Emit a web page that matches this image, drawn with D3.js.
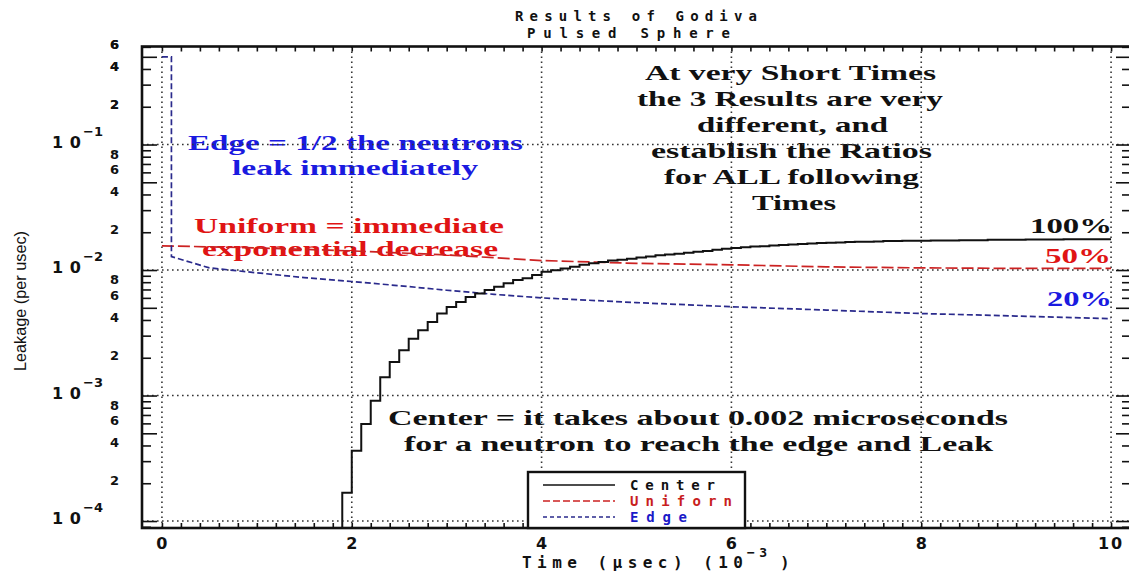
<!DOCTYPE html>
<html><head><meta charset="utf-8">
<script src="https://cdn.jsdelivr.net/npm/d3@7"></script>
<style>body{margin:0;background:#fff}</style>
</head><body>
<svg id="chart" width="1129" height="571"></svg>
<script>
// ---- data (time in 1e-3 usec, leakage per usec) ----
const seriesNames = ["Center", "Uniforn", "Edge"];

// Center: histogram bins 0.1 wide, first bin starts at 1.9
const centerBinStart = 1.9;
const centerBinWidth = 0.1;
const centerValues = [
  0.000168, 0.000363, 0.000594, 0.00091, 0.00140, 0.00185, 0.00229, 0.00284, 0.00331, 0.00386,
  0.00451, 0.00508, 0.00557, 0.00611, 0.00651, 0.00692, 0.00735, 0.00783, 0.00832, 0.00859,
  0.00912, 0.00969, 0.00998, 0.0103, 0.0106, 0.0110, 0.0113, 0.0116, 0.0119, 0.0121,
  0.0123, 0.0126, 0.0128, 0.0131, 0.0133, 0.0135, 0.0137, 0.0140, 0.0142, 0.0145,
  0.0148, 0.0150, 0.0152, 0.0154, 0.0155, 0.0157, 0.0158, 0.0160, 0.0161, 0.0163,
  0.0164, 0.0165, 0.0166, 0.0167, 0.0168, 0.0168, 0.0169, 0.0170, 0.0170, 0.0171,
  0.0171, 0.0171, 0.0172, 0.0172, 0.0172, 0.0173, 0.0173, 0.0173, 0.0174, 0.0174,
  0.0174, 0.0174, 0.0175, 0.0175, 0.0175, 0.0175, 0.0176, 0.0176, 0.0176, 0.0176,
  0.0176
];

const uniformTimes  = [0, 1, 2, 3, 4, 5, 6, 7, 8, 9, 10];
const uniformValues = [0.0156, 0.0150, 0.0142, 0.0132, 0.0119, 0.0113, 0.0110, 0.0106, 0.0104, 0.0103, 0.0103];

const edgeTimes  = [0, 0.1, 0.1, 0.5, 1, 1.5, 2, 2.5, 3, 3.5, 4, 5, 6, 7, 8, 9, 10];
const edgeValues = [0.5, 0.5, 0.0128, 0.0104, 0.0095, 0.0087, 0.0081, 0.0075, 0.0069, 0.0064, 0.0060, 0.0055, 0.0051, 0.0048, 0.0045, 0.0043, 0.0041];

const xTickLabels = [0, 2, 4, 6, 8, 10];
const yDecadeExps = [-1, -2, -3, -4];
const yMantissaLabels = [2, 4, 6, 8];

// ---- scales ----
const W = 1129, H = 571;
const L = 142, R = 1131, T = 46.5, B = 528;
const x = d3.scaleLinear().domain([-0.21, 10.21]).range([L, R]);
const y = d3.scaleLog().domain([8.8e-5, 0.604]).range([B, T]);

const svg = d3.select("#chart");
svg.append("rect").attr("width", W).attr("height", H).attr("fill", "#fff");

const serif = "'Liberation Serif','Times New Roman',serif";
const mono = "'DejaVu Sans Mono','Liberation Mono',monospace";
const sans = "'DejaVu Sans','Liberation Sans',sans-serif";

// ---- annotation texts (drawn beneath grid and curves) ----
const notes = svg.append("g").attr("font-family", serif).attr("font-weight", "bold").attr("font-size", 21);
function note(txt, x0, base, len, col) {
  notes.append("text").attr("x", x0).attr("y", base).attr("fill", col)
    .attr("textLength", len).attr("lengthAdjust", "spacingAndGlyphs").text(txt);
}
note("At very Short Times", 645, 80, 291, "#111");
note("the 3 Results are very", 637, 106, 306, "#111");
note("different, and", 697, 132, 191, "#111");
note("establish the Ratios", 651, 158, 281, "#111");
note("for ALL following", 664, 184, 255, "#111");
note("Times", 752, 210, 84, "#111");

note("Edge = 1/2 the neutrons", 188, 150, 335, "#1a1ae0");
note("leak immediately", 232, 175, 246, "#1a1ae0");

note("Uniform = immediate", 194, 233, 310, "#e01414");
note("exponential decrease", 202, 256, 296, "#e01414");

note("Center = it takes about 0.002 microseconds", 388, 425, 620, "#111");
note("for a neutron to reach the edge and Leak", 404, 451, 589, "#111");

note("100%", 1030, 233, 82, "#111");
note("50%", 1045, 263, 66, "#e01414");
note("20%", 1047, 306, 65, "#1a1ae0");

// ---- dotted grid ----
const grid = svg.append("g").attr("stroke", "#333").attr("stroke-width", 1.6)
  .attr("stroke-dasharray", "1.6,3.4").attr("fill", "none");
xTickLabels.forEach(v => {
  grid.append("line").attr("x1", x(v)).attr("x2", x(v)).attr("y1", T).attr("y2", B);
});
yDecadeExps.forEach(e => {
  grid.append("line").attr("x1", L).attr("x2", R).attr("y1", y(Math.pow(10, e))).attr("y2", y(Math.pow(10, e)));
});

// ---- curves ----
const plot = svg.append("g");
svg.append("clipPath").attr("id", "clip").append("rect").attr("x", L).attr("y", T).attr("width", R - L).attr("height", B - T);
plot.attr("clip-path", "url(#clip)");

// Center histogram as a step line, rising from below the axis at its first bin
const centerPts = [[centerBinStart, y.domain()[0] * 0.5]];
centerValues.forEach((v, i) => centerPts.push([centerBinStart + i * centerBinWidth, v]));
centerPts.push([centerBinStart + centerValues.length * centerBinWidth, centerValues[centerValues.length - 1]]);
const stepLine = d3.line().x(d => x(d[0])).y(d => y(d[1])).curve(d3.curveStepAfter);
const plainLine = d3.line().x(d => x(d[0])).y(d => y(d[1]));

plot.append("path").datum(uniformTimes.map((t, i) => [t, uniformValues[i]]))
  .attr("d", plainLine).attr("fill", "none").attr("stroke", "#cc2222")
  .attr("stroke-width", 1.7).attr("stroke-dasharray", "12,4");

plot.append("path").datum(edgeTimes.map((t, i) => [t, edgeValues[i]]))
  .attr("d", plainLine).attr("fill", "none").attr("stroke", "#2a2a8c")
  .attr("stroke-width", 1.7).attr("stroke-dasharray", "6,3");

plot.append("path").datum(centerPts)
  .attr("d", stepLine).attr("fill", "none").attr("stroke", "#111").attr("stroke-width", 2);

// ---- axes ticks ----
const minorY = [], majorY = [];
for (let e = -5; e <= 0; e++) {
  for (let m = 1; m <= 9; m++) {
    const v = m * Math.pow(10, e);
    if (v < y.domain()[0] || v > y.domain()[1]) continue;
    if (m === 1 || m === 5) majorY.push(v); else minorY.push(v);
  }
}
const xMinor = d3.range(0, 10.001, 0.2).map(v => +v.toFixed(1));

function styleAxis(g) {
  g.select(".domain").remove();
  g.selectAll("line").attr("stroke", "#111").attr("stroke-width", 1.6);
  g.selectAll("text").remove();
}
svg.append("g").attr("transform", `translate(${L},0)`)
  .call(d3.axisRight(y).tickValues(minorY).tickSize(9).tickFormat("")).call(styleAxis);
svg.append("g").attr("transform", `translate(${L},0)`)
  .call(d3.axisRight(y).tickValues(majorY).tickSize(15).tickFormat("")).call(styleAxis);
svg.append("g").attr("transform", `translate(${R},0)`)
  .call(d3.axisLeft(y).tickValues(minorY).tickSize(9).tickFormat("")).call(styleAxis);
svg.append("g").attr("transform", `translate(${R},0)`)
  .call(d3.axisLeft(y).tickValues(majorY).tickSize(15).tickFormat("")).call(styleAxis);
svg.append("g").attr("transform", `translate(0,${T})`)
  .call(d3.axisBottom(x).tickValues(xMinor).tickSize(5).tickFormat("")).call(styleAxis);
svg.append("g").attr("transform", `translate(0,${B})`)
  .call(d3.axisTop(x).tickValues(xMinor).tickSize(5).tickFormat("")).call(styleAxis);

// frame
svg.append("rect").attr("x", L).attr("y", T).attr("width", R - L).attr("height", B - T)
  .attr("fill", "none").attr("stroke", "#111").attr("stroke-width", 2.6);

// ---- tick labels ----
const lab = svg.append("g").attr("font-family", sans).attr("font-weight", "bold").attr("fill", "#111");
yDecadeExps.forEach(e => {
  const yy = y(Math.pow(10, e));
  lab.append("text").attr("x", 52).attr("y", yy + 3).attr("font-size", 16)
    .attr("textLength", 29).attr("lengthAdjust", "spacing").text("10");
  lab.append("text").attr("x", 83).attr("y", yy - 9).attr("font-size", 13).text("\u2212" + (-e));
});
for (let e = -4; e <= -1; e++) {
  yMantissaLabels.forEach(m => {
    const v = m * Math.pow(10, e);
    if (v > y.domain()[1]) return;
    lab.append("text").attr("x", 119).attr("y", y(v) + 2).attr("text-anchor", "end")
      .attr("font-size", 13).text(m);
  });
}
// mantissa labels of the 10^-1 decade
[2, 4, 6].forEach(m => {
  const v = m * 0.1;
  lab.append("text").attr("x", 119).attr("y", y(v) + 2).attr("text-anchor", "end")
    .attr("font-size", 13).text(m);
});
xTickLabels.forEach(v => {
  lab.append("text").attr("x", x(v)).attr("y", 549).attr("text-anchor", "middle")
    .attr("font-size", 16).attr("letter-spacing", v === 10 ? 2 : 0).text(v);
});

// ---- titles ----
const ttl = svg.append("g").attr("font-family", mono).attr("font-weight", "bold").attr("fill", "#111").attr("font-size", 14);
ttl.append("text").attr("x", 515).attr("y", 21).attr("textLength", 242).attr("lengthAdjust", "spacing").text("Results of Godiva");
ttl.append("text").attr("x", 527).attr("y", 38).attr("textLength", 203).attr("lengthAdjust", "spacing").text("Pulsed Sphere");

ttl.append("text").attr("x", 522).attr("y", 568).attr("font-size", 16).attr("textLength", 221).attr("lengthAdjust", "spacing").text("Time (\u03bcsec) (10");
ttl.append("text").attr("x", 747).attr("y", 557).attr("font-size", 13).attr("textLength", 20).attr("lengthAdjust", "spacing").text("\u22123");
ttl.append("text").attr("x", 780).attr("y", 568).attr("font-size", 16).text(")");

svg.append("text").attr("transform", "translate(26,301) rotate(-90)")
  .attr("text-anchor", "middle").attr("font-family", "'Liberation Sans',Arial,sans-serif")
  .attr("font-size", 17).attr("fill", "#111").attr("textLength", 140).attr("lengthAdjust", "spacingAndGlyphs")
  .text("Leakage (per usec)");

// ---- legend ----
const lg = svg.append("g");
lg.append("rect").attr("x", 528).attr("y", 472).attr("width", 217).attr("height", B - 472)
  .attr("fill", "#fff").attr("stroke", "#111").attr("stroke-width", 2.4);
const legendStyles = [
  { line: "#111", dash: null, txt: "#111", len: 85 },
  { line: "#cc2222", dash: "7,3", txt: "#c81e1e", len: 102 },
  { line: "#2a2a8c", dash: "4,3", txt: "#1a1ac8", len: 57 }
];
const legendRowY = [485, 501, 517];
seriesNames.forEach((name, i) => {
  const s = legendStyles[i];
  lg.append("line").attr("x1", 543).attr("x2", 615).attr("y1", legendRowY[i]).attr("y2", legendRowY[i])
    .attr("stroke", s.line).attr("stroke-width", 1.4).attr("stroke-dasharray", s.dash);
  lg.append("text").attr("x", 630).attr("y", legendRowY[i] + 5).attr("font-family", mono)
    .attr("font-weight", "bold").attr("font-size", 14).attr("fill", s.txt)
    .attr("textLength", s.len).attr("lengthAdjust", "spacing").text(name);
});
</script>
</body></html>
